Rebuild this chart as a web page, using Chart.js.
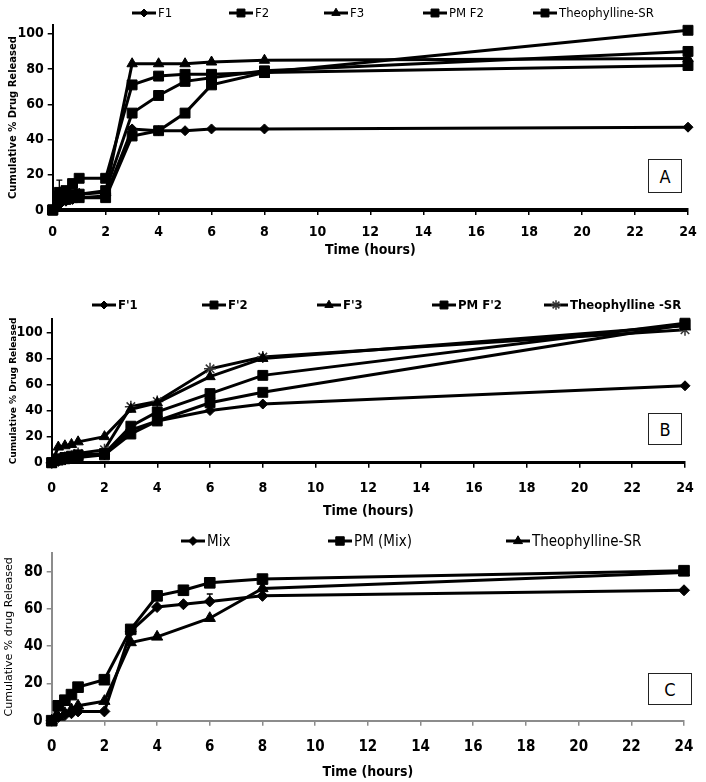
<!DOCTYPE html>
<html>
<head>
<meta charset="utf-8">
<script src="https://cdn.jsdelivr.net/npm/chart.js@4.4.1/dist/chart.umd.min.js"></script>
<style>
  html, body { margin: 0; padding: 0; background: #fff; }
  #wrap { position: relative; width: 706px; height: 782px; }
  .panel { position: absolute; left: 0; width: 706px; }
  .tag {
    position: absolute; box-sizing: border-box; border: 1.5px solid #222; background: #fff;
    font: 18px "Liberation Sans Narrow", "DejaVu Sans Condensed", sans-serif;
    display: flex; align-items: center; justify-content: center; color: #000;
  }
</style>
</head>
<body>
<div id="wrap">
  <div class="panel" style="top:0;height:262px"><canvas id="chart-a"></canvas></div>
  <div class="panel" style="top:262px;height:260px"><canvas id="chart-b"></canvas></div>
  <div class="panel" style="top:522px;height:260px"><canvas id="chart-c"></canvas></div>
  <div class="tag" style="left:648px;top:159px;width:34px;height:34px">A</div>
  <div class="tag" style="left:648px;top:413px;width:34px;height:32px">B</div>
  <div class="tag" style="left:648px;top:673px;width:44px;height:32px">C</div>
</div>
<script>
// tempos (horas)
var horasA = [0, 0.25, 0.5, 0.75, 1, 2, 3, 4, 5, 6, 8, 24];
var horasB = [0, 0.25, 0.5, 0.75, 1, 2, 3, 4, 6, 8, 24];
var horasC = [0, 0.25, 0.5, 0.75, 1, 2, 3, 4, 5, 6, 8, 24];
var horasCTeo = [0, 0.25, 0.5, 0.75, 1, 2, 3, 4, 6, 8, 24];

// painel A
var aF1 = [0, 3, 5, 6, 7, 8, 46, 45, 45, 46, 46, 47];
var aF2 = [0, 8, 11, 15, 18, 18, 71, 76, 77, 77, 78, 82];
var aF3 = [0, 5, 7, 8, 9, 10, 83, 83, 83, 84, 85, 86];
var aPMF2 = [0, 10, 8, 9, 9, 11, 55, 65, 73, 75, 79, 90];
var aTeo = [0, 6, 6, 7, 7, 7, 42, 45, 55, 71, 78, 102];
var aF2Erro = [0, 9, 0, 0, 0, 0, 0, 0, 0, 0, 0, 0];

// painel B
var bF1 = [0, 1, 2, 3, 4, 6, 25, 32, 40, 45, 59];
var bF2 = [0, 3, 4, 5, 6, 7, 28, 39, 53, 67, 107];
var bF3 = [0, 12, 13, 14, 16, 20, 41, 46, 66, 80, 105];
var bPMF2 = [0, 2, 3, 4, 5, 6, 22, 32, 46, 54, 106];
var bTeo = [0, 2, 4, 5, 7, 10, 43, 47, 72, 81, 102];

// painel C
var cMix = [0, 2, 3, 4, 5, 5, 48, 61, 62.5, 64, 67, 70];
var cPMMix = [0, 8, 11, 14, 18, 22, 49, 67, 70, 74, 76, 80.5];
var cTeo = [0, 2, 4, 6, 8, 10.5, 42, 45, 55, 71, 79.5];
var cMixErro = [0, 0, 0, 0, 0, 0, 0, 0, 0, 4, 0, 0];

// rótulos dos eixos
var ticksX = [0, 2, 4, 6, 8, 10, 12, 14, 16, 18, 20, 22, 24];
var ticksYA = [0, 20, 40, 60, 80, 100];
var ticksYB = [0, 20, 40, 60, 80, 100];
var ticksYC = [0, 20, 40, 60, 80];

var fonteNum = '"Liberation Sans Narrow", "DejaVu Sans Condensed", sans-serif';

function pares(t, v) {
  return t.map(function (x, i) { return { x: x, y: v[i] }; });
}

function comoTicks(lista) {
  return lista.map(function (v) { return { value: v }; });
}

var legendaAmostra = {
  id: "legendaAmostra",
  afterDraw: function (chart, args, opts) {
    var ctx = chart.ctx;
    chart.data.datasets.forEach(function (ds, i) {
      var x = opts.xs[i], y = opts.y;
      ctx.save();
      ctx.strokeStyle = "#000";
      ctx.lineWidth = 3;
      ctx.beginPath();
      ctx.moveTo(x - 12, y);
      ctx.lineTo(x + 12, y);
      ctx.stroke();
      ctx.fillStyle = ds.pointBackgroundColor;
      ctx.strokeStyle = ds.pointBorderColor;
      ctx.lineWidth = ds.pointBorderWidth;
      Chart.helpers.drawPoint(ctx, {
        pointStyle: ds.pointStyle, radius: ds.pointRadius * 0.8,
        rotation: 0, borderWidth: ds.pointBorderWidth
      }, x, y);
      ctx.fillStyle = "#000";
      ctx.font = opts.font;
      ctx.textBaseline = "middle";
      ctx.textAlign = "left";
      ctx.fillText(ds.label, x + 14, y + 1);
      ctx.restore();
    });
  }
};

var barrasErro = {
  id: "barrasErro",
  afterDatasetsDraw: function (chart) {
    var ctx = chart.ctx, sx = chart.scales.x, sy = chart.scales.y;
    chart.data.datasets.forEach(function (ds) {
      if (!ds.erro) return;
      ds.data.forEach(function (p, i) {
        var e = ds.erro[i];
        if (!e) return;
        var px = sx.getPixelForValue(p.x);
        var y0 = sy.getPixelForValue(p.y);
        var y1 = sy.getPixelForValue(p.y + e);
        ctx.save();
        ctx.strokeStyle = "#000";
        ctx.lineWidth = 1.3;
        ctx.beginPath();
        ctx.moveTo(px, y0);
        ctx.lineTo(px, y1);
        ctx.moveTo(px - 3, y1);
        ctx.lineTo(px + 3, y1);
        ctx.stroke();
        ctx.restore();
      });
    });
  }
};

function serie(label, t, v, estilo, raio, cor, erro) {
  return {
    label: label,
    data: pares(t, v),
    borderColor: "#000",
    borderWidth: 3,
    tension: 0,
    pointStyle: estilo,
    pointRadius: raio,
    pointBackgroundColor: cor || "#000",
    pointBorderColor: cor || "#000",
    pointBorderWidth: estilo === "star" ? 1.5 : 1,
    clip: false,
    erro: erro
  };
}

function montar(id, p) {
  new Chart(document.getElementById(id), {
    type: "line",
    data: { datasets: p.series },
    options: {
      responsive: true,
      maintainAspectRatio: false,
      animation: false,
      layout: { padding: { top: p.top, right: 706 - p.right, left: 0, bottom: 0 } },
      plugins: {
        legend: { display: false },
        tooltip: { enabled: false },
        legendaAmostra: { xs: p.legX, y: p.legY, font: p.legFont }
      },
      scales: {
        x: {
          type: "linear", min: 0, max: 24,
          afterBuildTicks: function (s) { s.ticks = comoTicks(ticksX); },
          ticks: {
            color: "#000", padding: p.xPad, maxRotation: 0,
            font: { family: fonteNum, size: p.tickSize, weight: "bold" }
          },
          grid: { display: true, drawOnChartArea: false, drawTicks: true, tickLength: 5, color: p.eixoCor, lineWidth: 1.5 },
          border: { display: true, color: p.eixoCor, width: p.xBorda },
          title: {
            display: true, text: "Time (hours)", color: "#000",
            font: { family: fonteNum, size: 14, weight: "bold" },
            padding: { top: 0, bottom: p.titPad }
          },
          afterFit: function (s) { s.height = p.h - p.bottom; }
        },
        y: {
          min: 0, max: p.ymax,
          afterBuildTicks: function (s) { s.ticks = comoTicks(p.yTicks); },
          ticks: {
            color: "#000", padding: 4,
            font: { family: fonteNum, size: p.tickSize, weight: "bold" }
          },
          grid: { display: true, drawOnChartArea: false, drawTicks: true, tickLength: 5, color: p.eixoCor, lineWidth: 1.5 },
          border: { display: true, color: p.eixoCor, width: 2 },
          title: {
            display: true, text: p.yTitulo, color: "#000",
            font: p.yFonte,
            padding: { top: p.yTitPad, bottom: 0 }
          },
          afterFit: function (s) { s.width = p.left; }
        }
      }
    },
    plugins: [legendaAmostra, barrasErro]
  });
}

montar("chart-a", {
  h: 262, top: 25, bottom: 210, left: 52.7, right: 688, ymax: 105, yTicks: ticksYA,
  legX: [144, 241, 336, 435, 545], legY: 13,
  legFont: "13px " + fonteNum,
  tickSize: 14, xPad: 8.6, titPad: 3.6, xBorda: 4, eixoCor: "#000",
  yTitulo: "Cumulative % Drug Released",
  yFonte: { family: '"DejaVu Sans", sans-serif', size: 10, weight: "bold" }, yTitPad: 7,
  series: [
    serie("F1", horasA, aF1, "rectRot", 5),
    serie("F2", horasA, aF2, "rect", 7, null, aF2Erro),
    serie("F3", horasA, aF3, "triangle", 6),
    serie("PM F2", horasA, aPMF2, "rect", 7),
    serie("Theophylline-SR", horasA, aTeo, "rect", 7)
  ]
});

montar("chart-b", {
  h: 260, top: 57.3, bottom: 200.7, left: 51.7, right: 685, ymax: 110, yTicks: ticksYB,
  legX: [104, 214, 329, 444, 556], legY: 43,
  legFont: "bold 13px " + fonteNum,
  tickSize: 14, xPad: 11.9, titPad: 2.6, xBorda: 3, eixoCor: "#000",
  yTitulo: "Cumulative % Drug Released",
  yFonte: { family: '"DejaVu Sans", sans-serif', size: 9, weight: "bold" }, yTitPad: 8.6,
  series: [
    serie("F'1", horasB, bF1, "rectRot", 5),
    serie("F'2", horasB, bF2, "rect", 7),
    serie("F'3", horasB, bF3, "triangle", 6),
    serie("PM F'2", horasB, bPMF2, "rect", 7),
    serie("Theophylline -SR", horasB, bTeo, "star", 6, "#333")
  ]
});

montar("chart-c", {
  h: 260, top: 31, bottom: 198.7, left: 51.7, right: 695, ymax: 90, yTicks: ticksYC,
  legX: [193, 340, 518], legY: 19,
  legFont: "15px " + fonteNum,
  tickSize: 15, xPad: 12.6, titPad: 1.6, xBorda: 2, eixoCor: "#8c8c8c",
  yTitulo: "Cumulative % drug Released",
  yFonte: { family: '"DejaVu Sans", sans-serif', size: 11, weight: "normal" }, yTitPad: 2.7,
  series: [
    serie("Mix", horasC, cMix, "rectRot", 5.5, null, cMixErro),
    serie("PM (Mix)", horasC, cPMMix, "rect", 7.5),
    serie("Theophylline-SR", horasCTeo, cTeo, "triangle", 6.5)
  ]
});
</script>
</body>
</html>
